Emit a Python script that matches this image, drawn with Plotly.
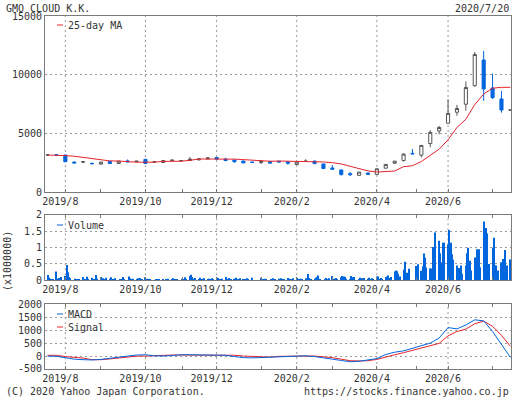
import plotly.graph_objects as go
import pandas as pd

# ---------------- data ----------------
week_start = "2019-07-22"   # Monday of first weekly candle
n_weeks = 53
open_ = [3150, 3170, 3150, 2550, 2550, 2440, 2380, 2620, 2430, 2650, 2580, 2780, 2550, 2520, 2690,
         2660, 2680, 2740, 2820, 2940, 2800, 2720, 2640, 2550, 2510, 2600, 2620, 2560, 2340, 2600,
         2640, 2390, 2050, 1880, 1560, 1420, 1620, 1500, 2030, 2450, 2680, 3290, 3140, 4130, 5200,
         5860, 6800, 7480, 9070, 11250, 8860, 7930, 6980]
high = [3220, 3200, 3160, 2600, 2620, 2510, 2560, 2640, 2650, 2780, 2640, 2800, 2600, 2700, 2780,
        2690, 2980, 2900, 2980, 2990, 2920, 2740, 2650, 2560, 2700, 2660, 2640, 2600, 2570, 2790,
        2660, 2400, 2300, 1900, 1700, 1710, 1650, 1990, 2360, 2650, 3300, 3660, 4000, 5260, 5620,
        7900, 7420, 9430, 11930, 12020, 10090, 8610, 7020]
low = [3080, 3100, 2560, 2440, 2460, 2340, 2360, 2410, 2420, 2560, 2560, 2390, 2540, 2500, 2640,
       2640, 2650, 2700, 2780, 2780, 2650, 2500, 2470, 2510, 2390, 2430, 2540, 2330, 2330, 2580,
       2400, 1990, 1930, 1390, 1360, 1410, 1500, 1480, 2020, 2430, 2600, 3230, 2950, 3810, 4920,
       5850, 6500, 6930, 8970, 7780, 7930, 6760, 6970]
close = [3160, 3140, 2580, 2480, 2580, 2420, 2550, 2420, 2630, 2570, 2630, 2430, 2580, 2680, 2710,
         2680, 2800, 2810, 2900, 2800, 2680, 2580, 2480, 2520, 2640, 2460, 2560, 2460, 2550, 2630,
         2420, 2000, 1940, 1500, 1480, 1700, 1510, 1980, 2350, 2630, 3230, 3250, 3970, 5080, 5500,
         6700, 7120, 8910, 11720, 8780, 8040, 6990, 7000]
ma25 = [3150, 3150, 3100, 3050, 2950, 2870, 2760, 2650, 2640, 2560, 2540, 2540, 2540, 2610, 2610,
        2620, 2700, 2810, 2810, 2820, 2820, 2800, 2760, 2700, 2650, 2620, 2640, 2630, 2600, 2600,
        2590, 2560, 2500, 2390, 2190, 2000, 1800, 1700, 1720, 1790, 2160, 2240, 2600, 3150, 3650,
        4450, 5500, 6200, 7450, 8350, 8850, 8920, 8920]
macd = [0, -10, -65, -120, -140, -150, -130, -80, -45, 0, 40, 50, 10, 0, 20,
        50, 50, 40, 40, 40, 30, -20, -60, -70, -60, -30, -20, -20, -10, 10,
        -20, -60, -120, -170, -220, -200, -150, -100, 60, 150, 200, 300, 400, 500, 700,
        1100, 1050, 1200, 1400, 1360, 950, 450, -50]
signal = [30, 30, -20, -40, -80, -140, -140, -110, -70, -30, -5, 0, 20, 30, 40,
          40, 40, 40, 40, 40, 40, 30, 0, -20, -40, -40, -10, 0, 0, 0,
          0, -20, -60, -120, -180, -190, -180, -130, -30, 50, 130, 220, 300, 380, 490,
          780, 950, 1040, 1250, 1350, 1150, 800, 380]

# daily volume (x1,000,000 shares), one list per week
volume_weeks = [
    [0.16, 0.08, 0.05, 0.03, 0.04], [0.27, 0.05, 0.07, 0.07, 0.10], [0.13, 0.47, 0.25, 0.10, 0.06],
    [0.05, 0.04, 0.03, 0.04], [0.10, 0.04, 0.03, 0.11, 0.03], [0.08, 0.04, 0.03, 0.16, 0.05],
    [0.10, 0.04, 0.06, 0.03, 0.08], [0.05, 0.09, 0.04, 0.03, 0.06], [0.04, 0.03, 0.10, 0.03],
    [0.12, 0.06, 0.03, 0.05], [0.04, 0.06, 0.03, 0.07, 0.04], [0.09, 0.05, 0.03, 0.04, 0.03],
    [0.03, 0.02, 0.04, 0.03], [0.04, 0.03, 0.02, 0.05], [0.03, 0.06, 0.03, 0.02, 0.04],
    [0.05, 0.03, 0.09, 0.04], [0.13, 0.17, 0.10, 0.05, 0.07], [0.04, 0.08, 0.03, 0.05, 0.06],
    [0.03, 0.05, 0.04, 0.06, 0.03], [0.08, 0.07, 0.04, 0.03, 0.05], [0.10, 0.04, 0.03, 0.07, 0.04],
    [0.05, 0.08, 0.04, 0.03, 0.06], [0.03, 0.04, 0.02, 0.06, 0.03], [0.08],
    [0.08, 0.04, 0.03, 0.05, 0.03], [0.04, 0.06, 0.03, 0.02], [0.05, 0.03, 0.06, 0.04, 0.03],
    [0.07, 0.05, 0.03, 0.04, 0.06], [0.08, 0.04, 0.03, 0.05, 0.03], [0.06, 0.19, 0.07, 0.04],
    [0.05, 0.08, 0.10, 0.15, 0.04], [0.03, 0.07, 0.04, 0.06], [0.13, 0.05, 0.04, 0.07, 0.03],
    [0.09, 0.13, 0.12, 0.10, 0.05], [0.04, 0.13, 0.09, 0.10], [0.04, 0.08, 0.06, 0.03, 0.07],
    [0.05, 0.08, 0.03, 0.06, 0.04], [0.12, 0.12, 0.05, 0.07, 0.04], [0.10, 0.12, 0.15, 0.07, 0.10],
    [0.27, 0.30, 0.28, 0.20, 0.12], [0.32, 0.57, 0.23, 0.35], [0.44, 0.49],
    [0.29, 0.42, 0.82, 0.69, 0.39], [0.36, 0.36, 1.02, 0.73, 1.46], [1.21, 0.83, 0.55, 1.15, 1.15],
    [1.10, 1.54, 1.15, 0.80, 0.63], [0.45, 0.30, 0.38, 0.45, 0.20], [0.45, 0.83, 1.00, 0.60, 0.30],
    [0.70, 0.55, 0.95, 0.95, 0.40], [1.80, 0.85, 1.60, 1.43, 0.50], [1.00, 1.30, 0.45, 0.45, 0.30],
    [0.55, 0.65, 0.56, 0.93, 0.45], [0.64],
]
jp_holidays = ["2019-08-12", "2019-09-16", "2019-09-23", "2019-10-14", "2019-10-22", "2019-11-04",
               "2019-12-31", "2020-01-01", "2020-01-02", "2020-01-03", "2020-01-13", "2020-02-11",
               "2020-02-24", "2020-03-20", "2020-04-29", "2020-05-04", "2020-05-05", "2020-05-06"]

month_ticks = ["2019-08-05", "2019-09-02", "2019-10-07", "2019-11-05", "2019-12-02", "2020-01-06",
               "2020-02-03", "2020-03-02", "2020-04-06", "2020-05-07", "2020-06-01", "2020-07-06"]
month_labels = ["2019/8", "", "2019/10", "", "2019/12", "", "2020/2", "", "2020/4", "", "2020/6", ""]

# ---------------- derived positions ----------------
weeks = pd.date_range(week_start, periods=n_weeks, freq="7D")
days = pd.bdate_range("2019-07-22", "2020-07-20")
days = days[~days.isin(pd.to_datetime(jp_holidays))]
volume = [v for wk in volume_weeks for v in wk]
assert len(volume) == len(days), (len(volume), len(days))

BLUE = "#0066dd"
RED = "#e8232a"
GRAY = "#555555"
FRAME = "#7a7a7a"
GRID = "#9a9a9a"
FONT = dict(family="DejaVu Sans Mono", size=10, color="#333333")

fig = go.Figure()
fig.add_trace(go.Candlestick(
    x=weeks, open=open_, high=high, low=low, close=close, xaxis="x", yaxis="y",
    increasing=dict(line=dict(color=GRAY, width=1), fillcolor="white"),
    decreasing=dict(line=dict(color=BLUE, width=1), fillcolor=BLUE),
    whiskerwidth=0, showlegend=False, name="price"))
fig.add_trace(go.Scatter(x=weeks, y=ma25, mode="lines", line=dict(color=RED, width=1),
                         xaxis="x", yaxis="y", showlegend=False, name="25-day MA"))
fig.add_trace(go.Bar(x=days, y=volume, marker=dict(color=BLUE, line=dict(width=0)),
                     width=86400000 * 0.85, xaxis="x2", yaxis="y2", showlegend=False, name="Volume"))
fig.add_trace(go.Scatter(x=weeks, y=signal, mode="lines", line=dict(color=RED, width=1),
                         xaxis="x3", yaxis="y3", showlegend=False, name="Signal"))
fig.add_trace(go.Scatter(x=weeks, y=macd, mode="lines", line=dict(color=BLUE, width=1),
                         xaxis="x3", yaxis="y3", showlegend=False, name="MACD"))

L, T, PW, PH = 45, 16, 466, 353


def px_x(p):
    return (p - L) / PW


def px_y(p):
    return (T + PH - p) / PH


xrange_ = ["2019-07-20", "2020-07-20 12:00"]
xcommon = dict(type="date", range=xrange_, tickvals=month_ticks, ticktext=month_labels,
               ticks="inside", ticklen=3, tickcolor=FRAME, showgrid=False, showline=True,
               linecolor=FRAME, linewidth=1, zeroline=False, tickfont=FONT, ticklabelshift=-5,
               rangeslider=dict(visible=False), fixedrange=True)
ycommon = dict(showgrid=True, gridcolor=GRID, griddash="2px,3px", gridwidth=1, zeroline=False,
               showline=True, linecolor=FRAME, linewidth=1, mirror=True, ticks="",
               tickfont=FONT, fixedrange=True)

fig.update_layout(
    width=512, height=399, margin=dict(l=L, r=1, t=T, b=30),
    paper_bgcolor="white", plot_bgcolor="white", font=FONT, boxgap=0.5,
    xaxis=dict(xcommon, anchor="y", mirror=True),
    xaxis2=dict(xcommon, anchor="y2", matches="x", mirror="ticks"),
    xaxis3=dict(xcommon, anchor="y3", matches="x", mirror="ticks"),
    yaxis=dict(ycommon, domain=[0.5014, 1.0], range=[0, 15000],
               tickvals=[0, 5000, 10000, 15000], ticktext=["0", "5000", "10000", "15000"]),
    yaxis2=dict(ycommon, domain=[0.2513, 0.4363], range=[0, 2],
                tickvals=[0, 0.5, 1, 1.5, 2], ticktext=["0", "0.5", "1", "1.5", "2"]),
    yaxis3=dict(ycommon, domain=[0.0, 0.1833], range=[-500, 2000],
                tickvals=[-500, 0, 500, 1000, 1500, 2000],
                ticktext=["-500", "0", "500", "1000", "1500", "2000"]),
    showlegend=False,
)

# vertical dashed grid lines at the labelled months
shapes = []
for xa, ya in (("x", "y"), ("x2", "y2"), ("x3", "y3")):
    for d, lab in zip(month_ticks, month_labels):
        if lab:
            shapes.append(dict(type="line", xref=xa, yref=ya + " domain", x0=d, x1=d, y0=0, y1=1,
                               line=dict(color=GRID, width=1, dash="2px,3px"), layer="below"))

ann = []


def txt(text, x, y, xanchor="left", **kw):
    ann.append(dict(text=text, x=px_x(x), y=px_y(y), xref="paper", yref="paper",
                    xanchor=xanchor, yanchor="middle", showarrow=False, font=FONT, **kw))


def legend_item(label, color, y):
    shapes.append(dict(type="line", xref="paper", yref="paper", x0=px_x(57), x1=px_x(63),
                       y0=px_y(y), y1=px_y(y), line=dict(color=color, width=1)))
    txt(label, 66, y)


txt("GMO CLOUD K.K.", 4, 8.5)
txt("2020/7/20", 511, 8.5, xanchor="right")
txt("(C) 2020 Yahoo Japan Corporation.", 4, 391.5)
txt("https://stocks.finance.yahoo.co.jp", 511, 391.5, xanchor="right")
txt("(x1000000)", 7, 261, xanchor="center", textangle=-90)
legend_item("25-day MA", RED, 25)
legend_item("Volume", BLUE, 225)
legend_item("MACD", BLUE, 314)
legend_item("Signal", RED, 327)
fig.update_layout(annotations=ann, shapes=shapes)

fig.write_html("out.html", config={"displayModeBar": False},
               post_script="document.body.style.margin='0';document.body.style.overflow='hidden';")
